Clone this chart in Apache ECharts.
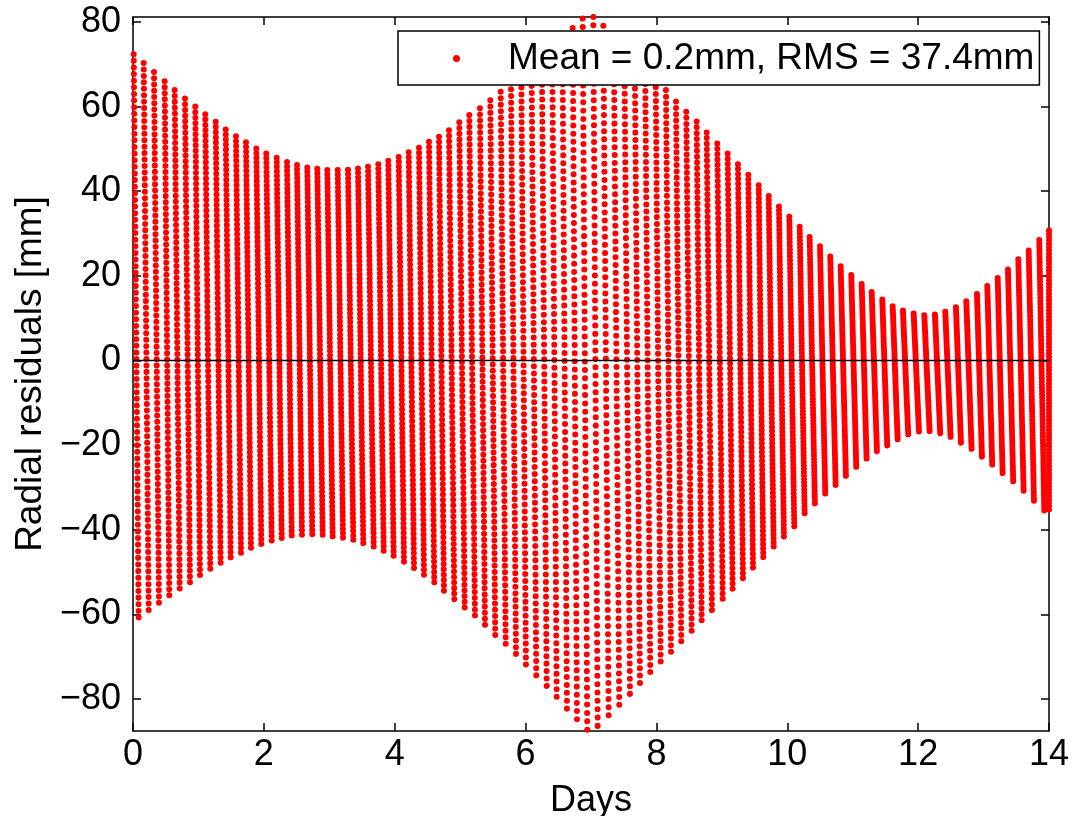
<!DOCTYPE html>
<html>
<head>
<meta charset="utf-8">
<script src="https://cdn.jsdelivr.net/npm/echarts@6/dist/echarts.min.js"></script>
<style>
html,body{margin:0;padding:0;background:#fff;}
#chart{width:1075px;height:816px;}
</style>
</head>
<body>
<div id="chart"></div>
<script>
// ---- data ----
// upper tip of each oscillation column: day and radial residual [mm]
const topDays = [0.011,0.164,0.321,0.484,0.637,0.795,0.952,1.105,1.264,1.417,1.574,1.727,1.885,2.037,2.196,2.354,2.507,2.664,2.817,2.970,3.129,3.286,3.439,3.592,3.749,3.902,4.061,4.214,4.371,4.524,
  4.677,4.830,4.987,5.140,5.303,5.461,5.620,
  5.777,5.935,6.092,6.249,6.407,6.563,
  6.720,6.873,7.035,7.188,
  7.348,7.509,7.669,7.828,
  7.989,8.146,8.299,8.456,8.615,8.768,8.930,9.089,
  9.246,9.404,9.563,9.716,9.873,10.031,10.190,10.342,10.500,10.657,10.816,10.978,11.137,11.290,11.452,11.611,11.768,11.932,12.094,12.257,12.415,12.578,12.736,12.899,13.057,13.216,13.373,13.531,13.690,13.851,13.995];
const topMM = [72.4,70.3,68.2,66.0,63.9,61.9,60.0,58.2,56.4,54.6,53.0,51.6,50.1,48.9,47.9,46.9,46.2,45.6,45.3,45.0,45.0,45.1,45.4,45.8,46.4,47.2,48.1,49.2,50.3,51.7,
  52.9,54.4,56.3,58.0,59.6,61.5,63.5,
  65.7,67.8,70.0,72.2,74.3,76.5,
  78.6,80.8,81.2,79.1,
  76.4,73.8,71.2,68.7,
  66.2,63.9,61.2,58.8,56.5,53.9,51.3,48.9,
  46.4,43.9,41.4,38.9,36.4,34.0,31.6,29.2,27.0,24.6,22.3,20.2,18.1,16.2,14.4,12.8,11.8,11.1,10.7,10.9,11.5,12.6,14.0,15.7,17.6,19.5,21.5,23.9,26.0,28.5,30.7];
// lower tip of each oscillation column
const botDays = [0.087,0.240,0.397,0.555,0.714,0.871,1.024,1.181,1.340,1.493,1.651,1.803,1.961,2.120,2.273,2.426,2.583,2.740,2.899,3.052,3.210,3.367,3.520,3.679,3.832,3.984,4.142,4.295,4.448,4.605,
  4.753,4.911,5.070,5.227,5.380,5.537,5.696,5.854,6.006,6.164,6.323,6.476,6.633,6.786,6.943,7.102,7.270,7.432,7.596,7.749,7.906,8.065,8.223,8.380,8.539,8.692,8.849,9.013,9.165,
  9.323,9.476,
  9.633,9.792,9.949,10.107,10.266,10.423,10.581,10.740,10.897,11.055,11.213,11.371,11.528,11.687,11.849,12.013,12.176,12.338,12.497,12.655,12.818,12.976,13.133,13.292,13.454,13.613,13.771,13.928,13.995];
const botMM = [-60.9,-59.1,-57.4,-55.6,-54.0,-52.5,-50.8,-49.3,-47.9,-46.6,-45.5,-44.3,-43.4,-42.6,-42.0,-41.4,-41.2,-41.1,-41.2,-41.6,-41.9,-42.4,-43.2,-44.0,-45.0,-46.2,-47.6,-49.1,-50.7,-52.5,
  -54.5,-56.5,-58.5,-60.4,-62.6,-65.0,-67.1,-69.5,-72.0,-74.6,-77.1,-79.7,-82.5,-85.0,-87.5,-86.6,-84.1,-81.6,-79.0,-76.4,-73.8,-71.3,-69.0,-66.5,-64.0,-61.5,-59.1,-56.4,-54.0,
  -51.5,-49.0,
  -46.5,-44.0,-41.6,-39.2,-36.9,-34.5,-32.1,-30.0,-27.8,-25.6,-23.6,-21.8,-20.4,-18.9,-17.7,-17.0,-16.9,-17.4,-18.3,-19.7,-21.2,-23.1,-25.0,-27.1,-29.1,-31.4,-33.8,-36.2,-36.0];
const zeroLine = [[0, 0], [14, 0]];
const yTicks = [-80, -60, -40, -20, 0, 20, 40, 60, 80];
const xRange = [0, 14];
const yRange = [-87.56, 81.18];
const legendText = 'Mean = 0.2mm, RMS = 37.4mm';
const xName = 'Days';
const yName = 'Radial residuals [mm]';

// ---- chart ----
const FONT = 'Liberation Sans';
const FS = 36;
const black = '#000';
const red = '#ff0000';

const columns = topDays.map((d, i) => {
  const lenPx = (topMM[i] - botMM[i]) * 4.22;
  const gap = Math.max(1, lenPx / 85);
  return {
    coords: [[d, topMM[i]], [botDays[i], botMM[i]]],
    lineStyle: { type: [0.01, gap], dashOffset: 0 }
  };
});

const axisLineStyle = { color: black, width: 1.5 };
const tickStyle = { color: black, width: 1.5 };
const minus = v => String(v).replace('-', '\u2212');

const chart = echarts.init(document.getElementById('chart'), null, { renderer: 'canvas' });
chart.setOption({
  animation: false,
  backgroundColor: '#fff',
  grid: { left: 133, right: 26, top: 17, bottom: 85, containLabel: false, outerBoundsMode: 'none' },
  xAxis: [
    {
      type: 'value', min: xRange[0], max: xRange[1], interval: 2, position: 'bottom',
      axisLine: { show: true, onZero: false, lineStyle: axisLineStyle },
      axisTick: { show: true, inside: true, length: 8, lineStyle: tickStyle },
      axisLabel: { show: true, fontSize: FS, fontFamily: FONT, color: black, margin: 6 },
      splitLine: { show: false },
      name: xName, nameLocation: 'middle', nameGap: 52,
      nameTextStyle: { fontSize: FS, fontFamily: FONT, color: black }
    },
    {
      type: 'value', min: xRange[0], max: xRange[1], interval: 2, position: 'top',
      axisLine: { show: true, onZero: false, lineStyle: axisLineStyle },
      axisTick: { show: true, inside: true, length: 8, lineStyle: tickStyle },
      axisLabel: { show: false },
      splitLine: { show: false }
    }
  ],
  yAxis: [
    {
      type: 'value', min: yRange[0], max: yRange[1], position: 'left',
      axisLine: { show: true, onZero: false, lineStyle: axisLineStyle },
      axisTick: { show: true, inside: true, length: 8, lineStyle: tickStyle, customValues: yTicks },
      axisLabel: { show: true, fontSize: FS, fontFamily: FONT, color: black, margin: 12, customValues: yTicks, formatter: minus },
      splitLine: { show: false },
      name: yName, nameLocation: 'middle', nameGap: 82, nameRotate: 90,
      nameTextStyle: { fontSize: 37, fontFamily: FONT, color: black }
    },
    {
      type: 'value', min: yRange[0], max: yRange[1], position: 'right',
      axisLine: { show: true, onZero: false, lineStyle: axisLineStyle },
      axisTick: { show: true, inside: true, length: 8, lineStyle: tickStyle, customValues: yTicks },
      axisLabel: { show: false, customValues: yTicks },
      splitLine: { show: false }
    }
  ],
  legend: {
    data: [legendText],
    left: 398, top: 31,
    orient: 'horizontal',
    padding: [9, 5, 8, 55],
    backgroundColor: '#fff',
    borderColor: black, borderWidth: 1.5,
    icon: 'circle', itemWidth: 5, itemHeight: 5,
    selectedMode: false,
    textStyle: { fontSize: 37, fontFamily: FONT, color: black, padding: [0, 0, 0, 44] },
    z: 10
  },
  series: [
    {
      type: 'lines', name: legendText, coordinateSystem: 'cartesian2d',
      xAxisIndex: 0, yAxisIndex: 0, polyline: false, silent: true,
      color: red,
      lineStyle: { color: red, width: 6, cap: 'round', opacity: 1 },
      data: columns, z: 2
    },
    {
      type: 'line', name: 'zero', data: zeroLine, symbol: 'none', silent: true,
      lineStyle: { color: black, width: 1.5 }, z: 3
    }
  ]
});
</script>
</body>
</html>
